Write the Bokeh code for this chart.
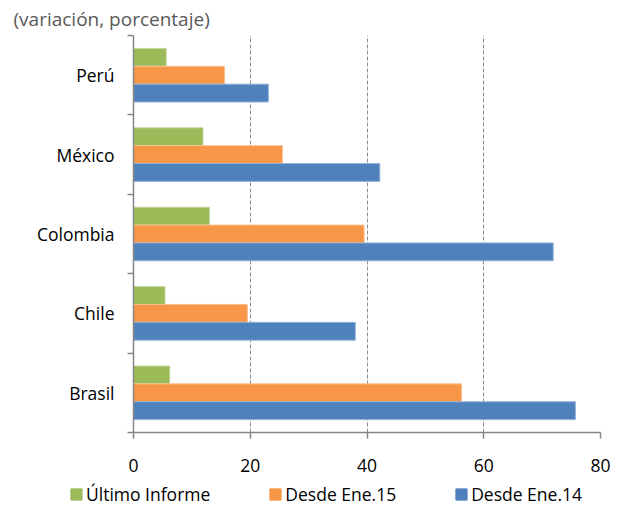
from bokeh.plotting import figure
from bokeh.models import ColumnDataSource, FixedTicker, Legend, LegendItem, Title, Range1d
from bokeh.layouts import column
from bokeh.transform import dodge
from bokeh.embed import file_html
from bokeh.resources import INLINE

countries = ["Brasil", "Chile", "Colombia", "México", "Perú"]
ultimo = [6.2, 5.4, 13.0, 11.9, 5.6]
ene15 = [56.2, 19.5, 39.5, 25.5, 15.6]
ene14 = [75.7, 38.0, 71.9, 42.2, 23.1]
x_ticks = [0, 20, 40, 60, 80]
series_names = ["Último Informe", "Desde Ene.15", "Desde Ene.14"]
title_text = "(variación, porcentaje)"

FONT = "Open Sans"
COLORS = ["#9BBB59", "#F79646", "#4F81BD"]
EDGES = ["#c3d69b", "#fac090", "#95b3d7"]
centers = [i + 0.5 for i in range(len(countries))]
bar_h = 0.225

src = ColumnDataSource(dict(
    y=centers,
    ultimo=ultimo,
    ene15=ene15,
    ene14=ene14,
))

p = figure(width=626, height=482, output_backend="svg", toolbar_location=None,
           x_range=Range1d(0, 80), y_range=Range1d(0, len(countries)),
           min_border_left=133, min_border_right=26, min_border_top=34, min_border_bottom=50)
p.outline_line_color = None
p.background_fill_color = "white"

p.hbar(y=dodge("y", bar_h, range=p.y_range), right="ultimo", left=0, height=bar_h, source=src,
       fill_color=COLORS[0], line_color=EDGES[0], line_width=1)
p.hbar(y=dodge("y", 0, range=p.y_range), right="ene15", left=0, height=bar_h, source=src,
       fill_color=COLORS[1], line_color=EDGES[1], line_width=1)
p.hbar(y=dodge("y", -bar_h, range=p.y_range), right="ene14", left=0, height=bar_h, source=src,
       fill_color=COLORS[2], line_color=EDGES[2], line_width=1)

# x axis
xa = p.xaxis[0]
xa.ticker = FixedTicker(ticks=x_ticks)
xa.axis_line_color = "#868686"
xa.axis_line_width = 1.5
xa.major_tick_line_color = "#868686"
xa.major_tick_line_width = 1.5
xa.major_tick_out = 6
xa.major_tick_in = 0
xa.minor_tick_line_color = None
xa.major_label_text_font = FONT
xa.major_label_text_font_size = "17.5px"
xa.major_label_text_color = "#000000"
xa.major_label_standoff = 20

# y axis
ya = p.yaxis[0]
ya.ticker = FixedTicker(ticks=centers, minor_ticks=list(range(len(countries) + 1)))
ya.major_label_overrides = {c: n for c, n in zip(centers, countries)}
ya.axis_line_color = "#868686"
ya.axis_line_width = 1.5
ya.major_tick_line_color = None
ya.major_tick_out = 0
ya.major_tick_in = 0
ya.minor_tick_line_color = "#868686"
ya.minor_tick_line_width = 1.5
ya.minor_tick_out = 6
ya.minor_tick_in = 0
ya.major_label_text_font = FONT
ya.major_label_text_font_size = "17.5px"
ya.major_label_text_color = "#000000"
ya.major_label_standoff = 13

p.ygrid.grid_line_color = None
p.xgrid.grid_line_color = "#8c8c8c"
p.xgrid.grid_line_dash = "4 2"
p.xgrid.grid_line_width = 1

title = Title(text=title_text, align="left", offset=-120, standoff=7,
              text_font=FONT, text_font_size="19px", text_color="#595959",
              text_font_style="normal")
p.add_layout(title, "above")

# legend strip
lg = figure(width=626, height=24, output_backend="svg", toolbar_location=None,
            x_range=Range1d(0, 1), y_range=Range1d(0, 1),
            x_axis_location=None, y_axis_location=None,
            min_border=0, outline_line_color=None)
lg.grid.visible = False
items = []
for name, fc in zip(series_names, COLORS):
    r = lg.hbar(y=[-5], right=[0], left=0, height=0.1, fill_color=fc, line_color=fc, line_width=1)
    items.append(LegendItem(label=name, renderers=[r]))

legend = Legend(items=items, orientation="horizontal", location=(69, 0),
                border_line_color=None, background_fill_alpha=0,
                padding=0, margin=0, spacing=58,
                glyph_width=14, glyph_height=14, label_standoff=3,
                label_text_font=FONT, label_text_font_size="17.5px", label_text_color="#000000")
lg.add_layout(legend)

open("out.html", "w").write(file_html(column(p, column(lg)), INLINE))
